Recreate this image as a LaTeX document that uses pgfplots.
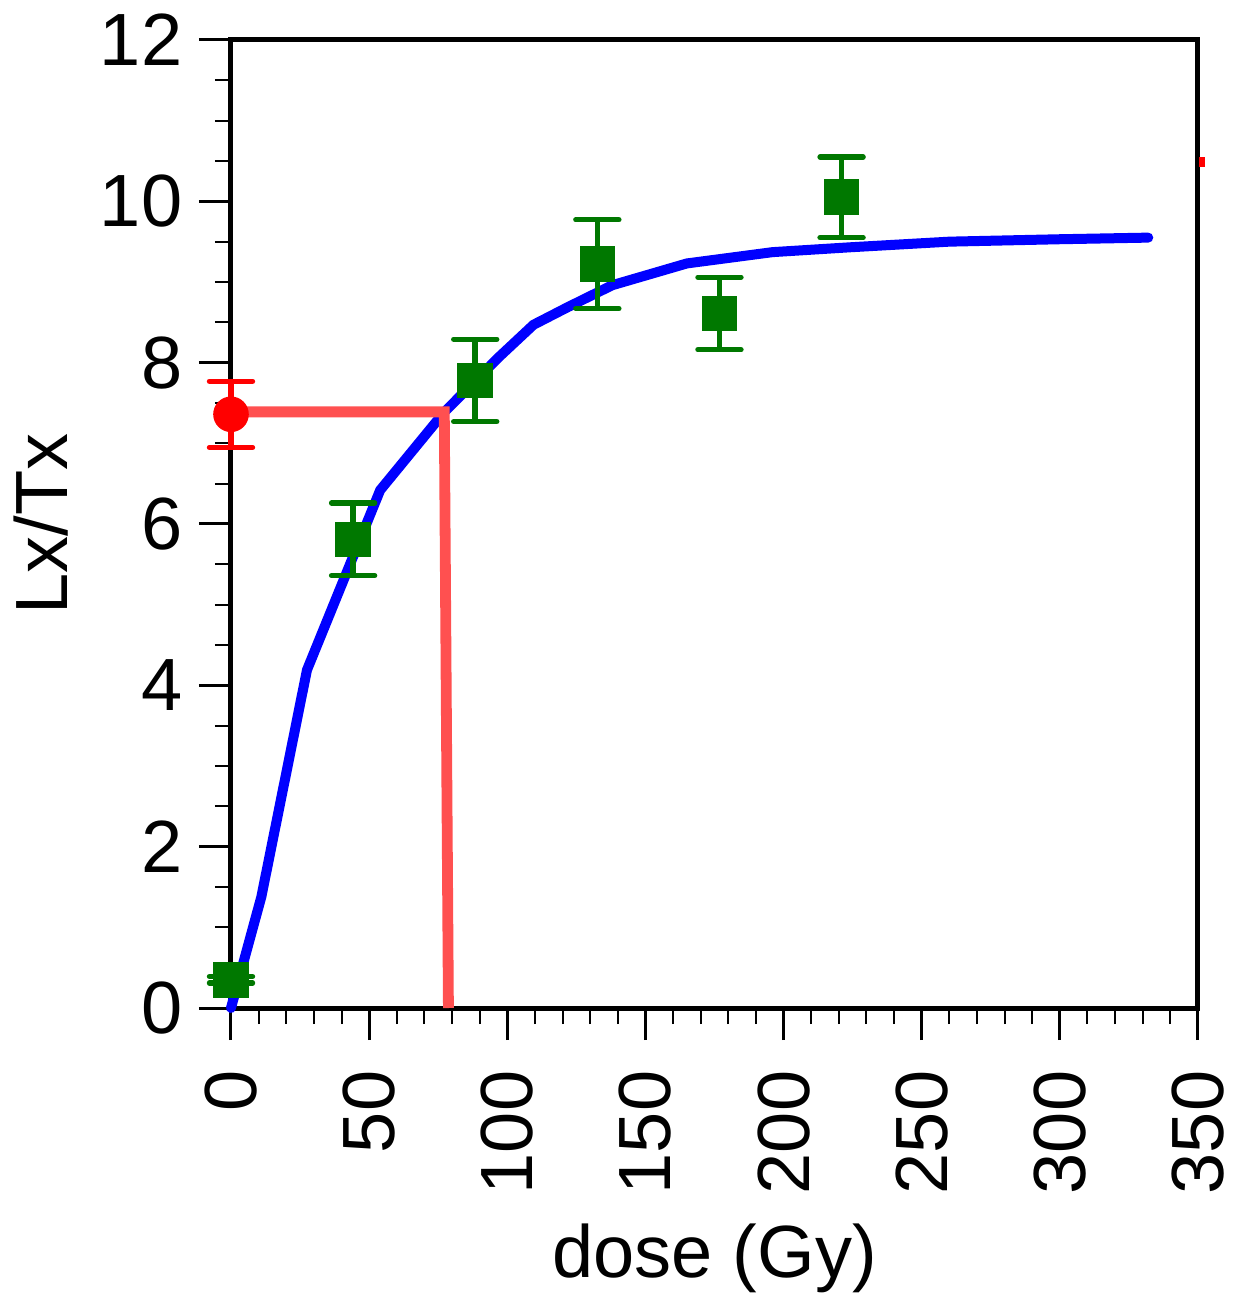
\documentclass[border=0pt]{standalone}
\usepackage{fontspec}
\setmainfont{Liberation Sans}
\usepackage{pgfplots}
\pgfplotsset{compat=1.18}
\definecolor{dgreen}{RGB}{0,120,0}
\definecolor{salmon}{RGB}{255,80,80}
\newcommand{\bigf}{\fontsize{18.5}{22}\selectfont}
\begin{document}
\begin{tikzpicture}
\path[use as bounding box] (-57.75pt,-71.5pt) rectangle (251.5pt,252pt);
\begin{axis}[
  at={(0pt,0pt)}, anchor=south west,
  scale only axis, width=241.75pt, height=242pt,
  xmin=0, xmax=350, ymin=0, ymax=12,
  xtick={0,50,...,350}, ytick={0,2,...,12},
  minor x tick num=4, minor y tick num=3,
  tick align=outside, tick pos=left,
  major tick length=8pt, minor tick length=4pt,
  every major tick/.append style={black, line width=0.75pt},
  every minor tick/.append style={black, line width=0.5pt},
  axis line style={line width=1.25pt},
  /pgf/number format/assume math mode=true,
  tick label style={font=\bigf, inner sep=0pt},
  xticklabel style={rotate=90, anchor=east},
  yticklabel style={anchor=east},
  xticklabel shift=7.5pt,
  yticklabel shift=4pt,
  xlabel={dose (Gy)}, ylabel={Lx/Tx},
  label style={font=\bigf, inner sep=0pt},
  xlabel style={at={([yshift=-67.25pt]axis description cs:0.5,0)}, anchor=base},
  ylabel style={at={([xshift=-40.75pt]axis description cs:0,0.5)}, anchor=base},
  clip=false,
]
% fitted curve
\addplot[blue, line width=2.5pt, line cap=round, line join=round] coordinates {
  (0,0) (11,1.38) (27.5,4.19) (54,6.42) (77,7.38) (97,8.07) (109.5,8.47)
  (122,8.69) (138,8.96) (165,9.23) (196,9.37) (224,9.43) (260,9.50)
  (300,9.53) (332,9.55)
};
% regenerated points
\addplot[dgreen, only marks, mark=square*, mark size=4.25pt,
  error bars/.cd, y dir=both, y explicit,
  error bar style={line width=1.4pt, dgreen},
  error mark options={rotate=90, line width=1.3pt, mark size=5.4pt, dgreen, line cap=round}]
  coordinates {
  (0,0.35) +- (0,0.04)
  (44.2,5.81) +- (0,0.45)
  (88.4,7.78) +- (0,0.51)
  (132.6,9.22) +- (0,0.55)
  (176.8,8.61) +- (0,0.45)
  (221,10.05) +- (0,0.50)
};
% natural signal
\addplot[red, only marks, mark=*, mark size=4.25pt,
  error bars/.cd, y dir=both, y explicit,
  error bar style={line width=1.4pt, red},
  error mark options={rotate=90, line width=1.3pt, mark size=5.4pt, red, line cap=round}]
  coordinates {(0,7.36) +- (0,0.41)};
% projection lines
\addplot[salmon, line width=2.7pt, line join=miter] coordinates {(0,7.39) (77.2,7.39) (78.7,0)};
% small red mark beyond the right border
\addplot[red, line width=2.5pt] coordinates {(350.5,10.49) (352.5,10.49)};
\end{axis}
\end{tikzpicture}
\end{document}
